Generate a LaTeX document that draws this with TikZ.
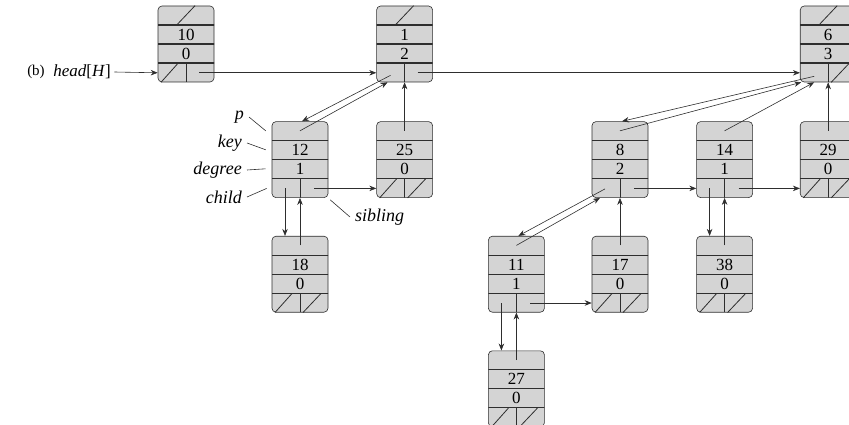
\documentclass[tikz,border=0pt]{standalone}
\usepackage{fontspec}
\setmainfont{Liberation Serif}
\usetikzlibrary{positioning, arrows.meta, calc}
\definecolor{cellfill}{HTML}{D4D4D4}
\definecolor{ink}{HTML}{2E2E2E}

\begin{document}
\begin{tikzpicture}[
  x=1pt, y=1pt,
  every node/.style={font=\fontsize{17}{19}\selectfont},
  hnode/.style={
    rectangle, rounded corners=4pt, draw=ink, line width=0.6pt,
    fill=cellfill, minimum width=56pt, minimum height=76pt, inner sep=0pt,
    align=center,
    path picture={
      \foreach \k in {1,2,3}
        \draw[ink, line width=1.1pt] ($(path picture bounding box.north west)+(-2,-19*\k)$) -- ++(64,0);
      \draw[ink, line width=0.8pt] (path picture bounding box.south) -- ++(0,19);
    },
  },
  tag/.style={font=\fontsize{18}{20}\selectfont\itshape, inner sep=5pt},
  ptr/.style={-{Stealth[length=7pt,width=5.5pt]}, line width=0.6pt, draw=ink},
  nilline/.style={line width=0.8pt, draw=ink},
  tagline/.style={line width=0.6pt, draw=ink},
]
\clip (0,0) rectangle (849,-425);

% root list
\node[hnode]                    (n10) at (186,-44) {10\\0};
\node[hnode, right=162pt of n10] (n1)  {1\\2};
\node[hnode, right=367pt of n1]  (n6)  {6\\3};

% tree of 1
\node[hnode, below=39pt of n1]  (n25) {25\\0};
\node[hnode, left=48pt of n25]  (n12) {12\\1};
\node[hnode, below=38pt of n12] (n18) {18\\0};

% tree of 6
\node[hnode, below=39pt of n6]  (n29) {29\\0};
\node[hnode, left=47pt of n29]  (n14) {14\\1};
\node[hnode, left=48pt of n14]  (n8)  {8\\2};
\node[hnode, below=38pt of n8]  (n17) {17\\0};
\node[hnode, below=38pt of n14] (n38) {38\\0};
\node[hnode, left=47pt of n17]  (n11) {11\\1};
\node[hnode, below=38pt of n11] (n27) {27\\0};

\node[font=\fontsize{15}{17}\selectfont] (tagb) at (36,-72) {(b)};
\node (head) at (82,-72) {\textit{head}[\textit{H}]};

% field names
\node[tag, anchor=east] (lp)     at (249,-117) {p};
\node[tag, anchor=east] (lkey)   at (247,-143) {key};
\node[tag, anchor=east] (ldeg)   at (247,-170) {degree};
\node[tag, anchor=east] (lchild) at (247,-197) {child};
\node[tag, anchor=west] (lsib)   at (350,-217) {sibling};

\draw[tagline] (lp.east)     -- ($(n12.north west)+(-6,-9.5)$);
\draw[tagline] (lkey.east)   -- ($(n12.north west)+(-6,-28.5)$);
\draw[tagline] (ldeg.east)   -- ($(n12.north west)+(-6,-47.5)$);
\draw[tagline] (lchild.east) -- ($(n12.south west)+(-5,9.5)$);
\draw[tagline] ($(n12.south east)+(2,-2)$) -- (lsib.west);

% nil pointers
\foreach \n in {n10,n1,n6}
  \draw[nilline] ($(\n.north)+(-9,-19)$) -- ($(\n.north)+(9,0)$);
\foreach \n in {n10,n25,n18,n29,n17,n38,n27}
  \draw[nilline] ($(\n.south)+(-25,0)$) -- ($(\n.south)+(-8,19)$);
\foreach \n in {n6,n25,n18,n29,n17,n38,n27}
  \draw[nilline] ($(\n.south)+(3,0)$) -- ($(\n.south)+(21,19)$);

% root list links
\draw[ptr] (head.east) -- ($(n10.south west)+(0,9.5)$);
\draw[ptr] ($(n10.south)+(13,9.5)$) -- ($(n1.south west)+(0,9.5)$);
\draw[ptr] ($(n1.south)+(13,9.5)$)  -- ($(n6.south west)+(0,9.5)$);

% slanted child / parent pairs
\draw[ptr] ($(n1.south)+(-14,7)$)   -- ($(n12.north)+(2,0)$);
\draw[ptr] ($(n12.north)+(0,-9.5)$) -- ($(n1.south)+(-17,0)$);
\draw[ptr] ($(n6.south)+(-14,6)$)   -- ($(n8.north)+(2,0)$);
\draw[ptr] ($(n8.north)+(0,-9.5)$)  -- ($(n6.south)+(-27,0)$);
\draw[ptr] ($(n14.north)+(0,-9.5)$) -- ($(n6.south)+(-14,0)$);
\draw[ptr] ($(n8.south)+(-15,9)$)   -- ($(n11.north)+(2,0)$);
\draw[ptr] ($(n11.north)+(0,-9.5)$) -- ($(n8.south)+(-20,0)$);

% straight child / parent pairs
\foreach \a/\b in {n12/n18, n14/n38, n11/n27} {
  \draw[ptr] ($(\a.south)+(-15,9.5)$) -- ($(\b.north)+(-15,0)$);
  \draw[ptr] ($(\b.north)+(0,-9.5)$) -- (\a.south);
}
\foreach \a/\b in {n1/n25, n6/n29, n8/n17}
  \draw[ptr] ($(\b.north)+(0,-9.5)$) -- (\a.south);

% sibling links
\foreach \a/\b in {n12/n25, n8/n14, n14/n29, n11/n17}
  \draw[ptr] ($(\a.south)+(14,9.5)$) -- ($(\b.south west)+(0,9.5)$);
\end{tikzpicture}
\end{document}
